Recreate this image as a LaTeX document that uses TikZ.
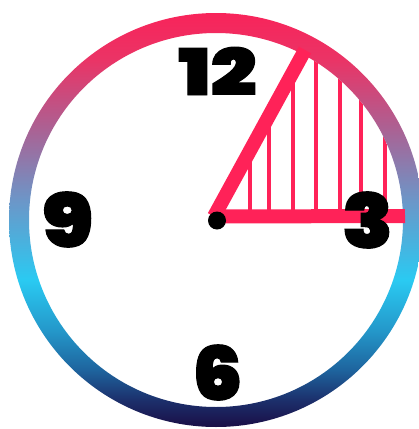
\documentclass[tikz,border=0pt]{standalone}
\usepackage{fontspec}
\IfFontExistsTF{Poppins Black}{\newfontfamily\digitfont{Poppins Black}[FakeBold=1.5]}{\newfontfamily\digitfont{Poppins}[FakeBold=4]}
\definecolor{handpink}{RGB}{255,34,88}
\definecolor{rc0}{RGB}{26,14,70}
\definecolor{rc1}{RGB}{28,48,108}
\definecolor{rc2}{RGB}{30,100,158}
\definecolor{rc3}{RGB}{36,152,202}
\definecolor{rc4}{RGB}{42,202,242}
\definecolor{rc5}{RGB}{108,150,200}
\definecolor{rc6}{RGB}{170,98,148}
\definecolor{rc7}{RGB}{234,52,102}
\definecolor{rc8}{RGB}{248,36,90}
\pgfdeclareverticalshading{ringshade}{100bp}{color(0bp)=(rc0); color(25bp)=(rc0); color(28.3bp)=(rc1); color(31.9bp)=(rc2); color(36.7bp)=(rc3); color(42.75bp)=(rc4); color(52.4bp)=(rc5); color(60.9bp)=(rc6); color(69.3bp)=(rc7); color(75bp)=(rc8); color(100bp)=(rc8)}
\begin{document}
\begin{tikzpicture}[x=1pt,y=-1pt,
  hand/.style={draw=handpink,line width=14pt,line cap=butt},
  hatch/.style={draw=handpink,line width=4pt},
  digit/.style={inner sep=0pt,outer sep=0pt,text=black,font=\digitfont}]
\useasboundingbox (0,0) rectangle (419,429);
\clip (0,0) rectangle (419,429);
\fill[white] (0,0) rectangle (419,429);
\coordinate (c) at (216,220);
\coordinate (pivot) at (214,216.5);
\coordinate (tipA) at (305,50);
\coordinate (tipB) at (405,216);
% hatching
\begin{scope}
  \clip (c) circle (187);
  \clip (214,217) -- (332,0) -- (419,0) -- (419,216) -- cycle;
  \foreach \x in {250,269.3,293,316,340,361,385}
    \draw[hatch] (\x,216) -- (\x,0);
\end{scope}
% ring
\shade[shading=ringshade,even odd rule] (c) circle (207) (c) circle (187);
% hands
\draw[hand] (pivot) -- (tipA);
\draw[hand] (pivot) -- (tipB);
\fill[black] (217,220.5) circle (9);
% digits
\node[digit] (n12) at (217.5,71) {\resizebox{78pt}{48pt}{12}};
\node[digit] (n9) at (67.5,219.5) {\resizebox{51pt}{55pt}{9}};
\node[digit] (n3) at (367.5,220) {\resizebox{51pt}{56pt}{3}};
\node[digit] (n6) at (217.5,372.5) {\resizebox{50pt}{55pt}{6}};
\end{tikzpicture}
\end{document}
